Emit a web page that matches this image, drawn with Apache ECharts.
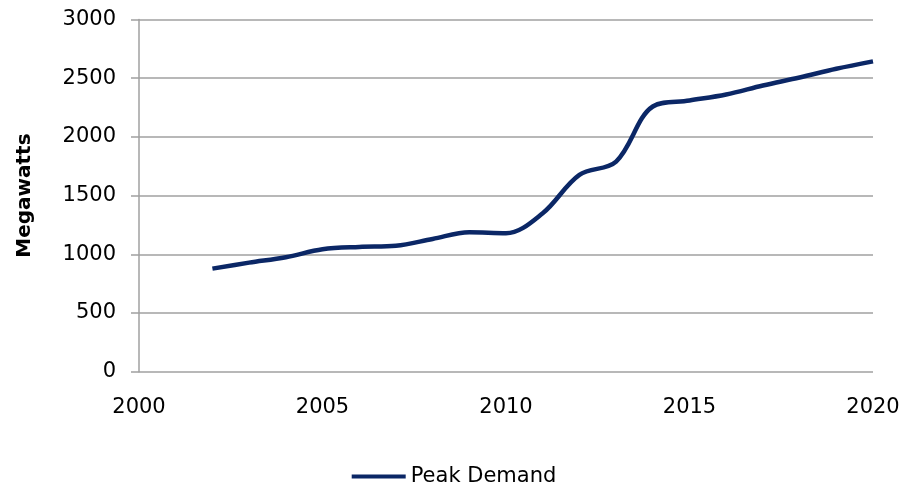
<!DOCTYPE html>
<html><head><meta charset="utf-8">
<script src="https://cdn.jsdelivr.net/npm/echarts@6/dist/echarts.min.js"></script>
<style>html,body{margin:0;padding:0;background:#fff}#c{width:908px;height:490px}</style>
</head><body><div id="c"></div>
<script>
const years = [2002,2003,2004,2005,2006,2007,2008,2009,2010,2011,2012,2013,2014,2015,2016,2017,2018,2019,2020];
const peakDemand = [878,929,975,1043,1063,1072,1131,1188,1180,1350,1677,1790,2259,2310,2361,2438,2506,2580,2643];
const seriesName = 'Peak Demand';
const yTitle = 'Megawatts';

const chart = echarts.init(document.getElementById('c'), null, {renderer:'canvas'});
const font = 'DejaVu Sans, sans-serif';
chart.setOption({
  animation:false,
  grid:{left:139,right:35,top:19.5,bottom:118.3,containLabel:false},
  xAxis:{type:'value',min:2000,max:2020,interval:5,
    axisLine:{show:false},axisTick:{show:false},splitLine:{show:false},
    axisLabel:{fontFamily:font,fontSize:21,color:'#000',margin:25,formatter:v=>String(v)}},
  yAxis:{type:'value',min:0,max:3000,interval:500,
    name:yTitle,nameLocation:'middle',nameGap:104,nameRotate:90,
    nameTextStyle:{fontFamily:font,fontSize:20,fontWeight:'bold',color:'#000'},
    axisLine:{show:true,lineStyle:{color:'#a0a0a0',width:1.5}},
    axisTick:{show:true,length:8,lineStyle:{color:'#a0a0a0',width:1.5}},
    splitLine:{show:true,lineStyle:{color:'#a0a0a0',width:1.5}},
    axisLabel:{fontFamily:font,fontSize:21,color:'#000',margin:23,formatter:v=>String(v)}},
  legend:{bottom:-2,left:'center',itemWidth:54,itemHeight:4,itemGap:6,
    icon:'rect',
    textStyle:{fontFamily:font,fontSize:21,color:'#000'},
    data:[{name:seriesName}]},
  series:[{name:seriesName,type:'line',smooth:0.35,showSymbol:false,symbol:'none',
    lineStyle:{color:'#0b2766',width:4.5},itemStyle:{color:'#0b2766'},
    data:years.map((y,i)=>[y,peakDemand[i]])}]
});
</script></body></html>
